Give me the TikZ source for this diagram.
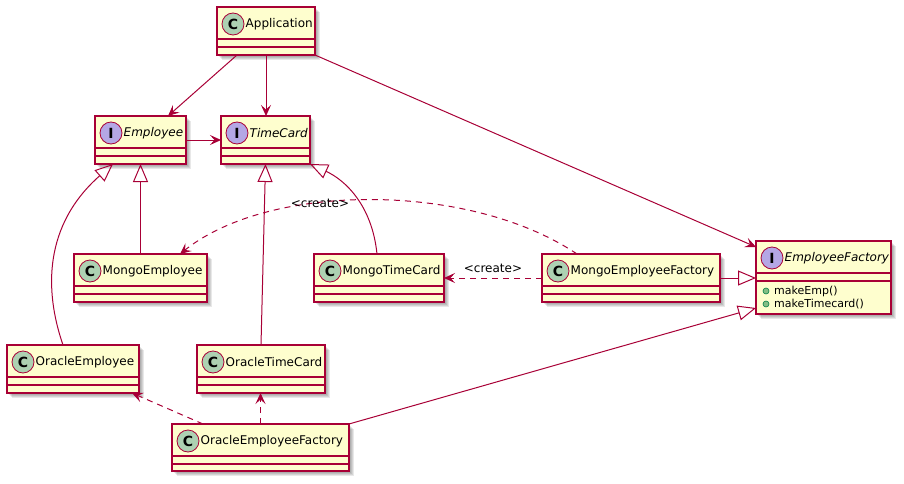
\documentclass[tikz,border=0pt]{standalone}
\usepackage{fontspec}
\setmainfont{DejaVu Sans}
\usetikzlibrary{arrows.meta,calc}
\definecolor{umlborder}{HTML}{A80036}
\definecolor{umlfill}{HTML}{FEFECE}
\definecolor{umlC}{HTML}{ADD1B2}
\definecolor{umlI}{HTML}{B4A7E5}
\definecolor{methfill}{HTML}{84BE84}
\definecolor{methline}{HTML}{038048}
\tikzset{
  classbox/.style={draw=umlborder, fill=umlfill, line width=1.5pt, rectangle, inner sep=0pt, outer sep=0pt},
  classicon/.style={circle, draw=umlborder, line width=0.8pt, minimum size=22pt, inner sep=0pt, font=\fontsize{14}{14}\selectfont\bfseries},
  classtitle/.style={anchor=west, inner sep=0pt, font=\fontsize{12}{14}\selectfont},
  rel/.style={draw=umlborder, line width=1pt},
  dep/.style={rel, dash pattern=on 6pt off 5pt, -{Stealth[length=11pt,width=10pt,inset=4.5pt]}},
  assoc/.style={rel, -{Stealth[length=11pt,width=10pt,inset=4.5pt]}},
  inherit/.style={rel, -{Triangle[open,length=18pt,width=15pt]}},
  lbl/.style={font=\fontsize{12}{14}\selectfont, inner sep=1pt},
}
\newcommand\umlbox[8]{%
  \foreach \s in {2,3,4,5}{\fill[black, opacity=0.09] ({#2+\s},{#3+\s}) rectangle ({#4+\s},{#5+\s});}
  \node[classbox, minimum width={(#4-#2)*1pt}, minimum height={(#5-#3)*1pt}, anchor=north west] (#1) at (#2,#3) {};
  \draw[umlborder, line width=1.5pt] (#2,{#3+32}) -- (#4,{#3+32}) (#2,{#3+40}) -- (#4,{#3+40});
  \node[classicon, fill=#7] (#1-icon) at ({#2+16},{#3+17}) {#6};
  \node[classtitle] (#1-title) at ({#2+28.5},{#3+17}) {#8};
}
\begin{document}
\begin{tikzpicture}[x=1pt,y=-1pt]
\useasboundingbox (0,0) rectangle (904,484);

\umlbox{app}{217}{7}{315}{55}{C}{umlC}{Application}
\umlbox{emp}{95}{116}{186}{164}{I}{umlI}{\itshape Employee}
\umlbox{tc}{221}{116}{310}{164}{I}{umlI}{\itshape TimeCard}
\umlbox{memp}{74}{254}{207}{302}{C}{umlC}{MongoEmployee}
\umlbox{mtc}{314}{254}{444}{302}{C}{umlC}{MongoTimeCard}
\umlbox{mef}{542}{254}{720}{302}{C}{umlC}{MongoEmployeeFactory}
\umlbox{ef}{756}{241}{891}{314}{I}{umlI}{\itshape EmployeeFactory}
\umlbox{oemp}{7}{345}{139}{393}{C}{umlC}{OracleEmployee}
\umlbox{otc}{197}{345}{325}{393}{C}{umlC}{OracleTimeCard}
\umlbox{oef}{172}{424}{349}{471}{C}{umlC}{OracleEmployeeFactory}

% methods of EmployeeFactory
\node[circle, draw=methline, fill=methfill, line width=0.6pt, minimum size=6pt, inner sep=0pt] (m1b) at (766,291) {};
\node[circle, draw=methline, fill=methfill, line width=0.6pt, minimum size=6pt, inner sep=0pt] (m2b) at (766,304) {};
\node[anchor=west, inner sep=0pt, font=\fontsize{11}{12}\selectfont] (m1) at (774,291) {makeEmp()};
\node[anchor=west, inner sep=0pt, font=\fontsize{11}{12}\selectfont] (m2) at (774,304) {makeTimecard()};

% associations from Application
\draw[assoc] ([xshift=-29pt]app.south) -- ([xshift=27.5pt]emp.north);
\draw[assoc] (app.south) -- (app.south |- tc.north);
\draw[assoc] (app.south east) -- ([yshift=-6pt]ef.north west);
\draw[assoc] (emp.east) -- (tc.west);

% inheritance
\draw[inherit] (memp.north) -- (memp.north |- emp.south);
\draw[inherit] ([xshift=-10pt]oemp.north) .. controls (44,290) and (44,225) .. ([xshift=-27.5pt]emp.south);
\draw[inherit] (otc.north) -- (tc.south);
\draw[inherit] ([xshift=-2pt]mtc.north) .. controls (372,205) and (345,180) .. (tc.south east);
\draw[inherit] (mef.east) -- (mef.east -| ef.west);
\draw[inherit] (oef.north east) -- ([yshift=6pt]ef.south west);

% create dependencies
\draw[dep] ([xshift=-54pt]mef.north) .. controls (470,182) and (270,182) .. ([xshift=39.5pt]memp.north);
\node[lbl] (lbl1) at (320,203) {<create>};
\draw[dep] (mef.west) -- node[lbl, above=4pt] (lbl2) {<create>} (mtc.east);
\draw[dep] ([xshift=-57.5pt]oef.north) -- ([xshift=59pt]oemp.south);
\draw[dep] (oef.north) -- (oef.north |- otc.south);
\end{tikzpicture}
\end{document}
